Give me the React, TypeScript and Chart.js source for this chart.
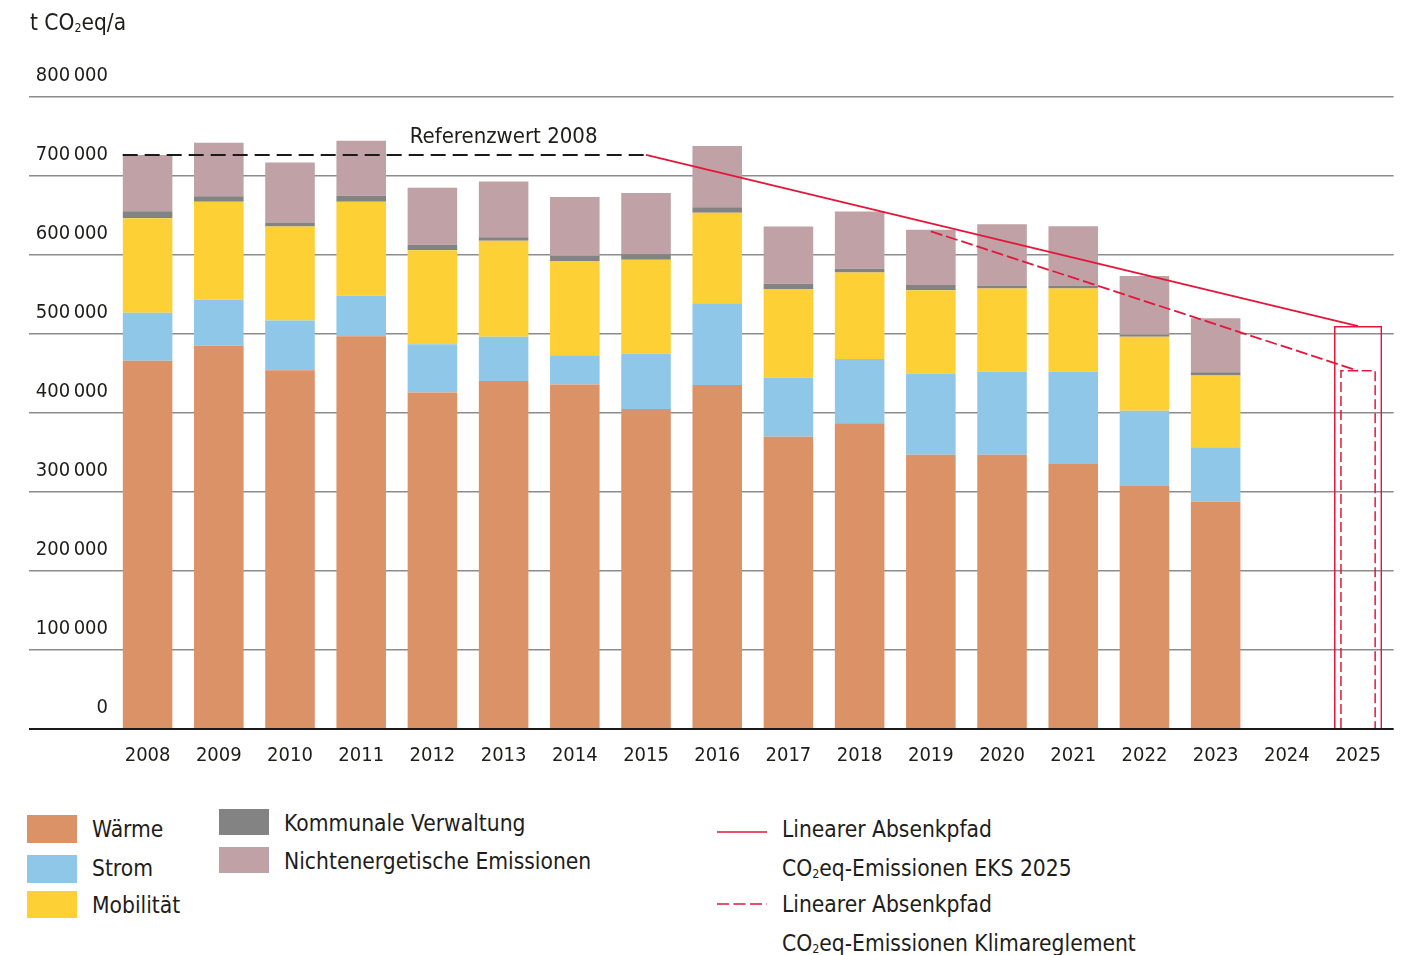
import React, { useEffect, useRef } from 'react';
import { Chart, registerables } from 'chart.js';

Chart.register(...registerables);

// ---------- data ----------
const years = ['2008', '2009', '2010', '2011', '2012', '2013', '2014', '2015', '2016', '2017', '2018', '2019', '2020', '2021', '2022', '2023', '2024', '2025'];

const waerme = [466000, 485000, 454000, 497000, 426000, 440500, 436000, 405000, 435500, 370000, 387000, 347000, 347000, 335500, 307500, 288000, null, null];
const strom = [61000, 58500, 63000, 51500, 61000, 56000, 37000, 70000, 103500, 75000, 81500, 103000, 105500, 117000, 95500, 68500, null, null];
const mobilitaet = [119500, 124000, 119000, 119000, 119000, 121500, 119500, 119000, 114500, 112000, 109500, 105500, 105000, 105000, 93500, 91000, null, null];
const kommunal = [9000, 7000, 5000, 7500, 7000, 4500, 6500, 7000, 7000, 6500, 4500, 6500, 4000, 4000, 3000, 4000, null, null];
const nichtenergetisch = [71000, 67500, 76000, 69500, 72000, 70500, 74500, 77500, 77500, 72500, 72500, 70000, 77500, 75000, 74000, 68500, null, null];

const zielEKS = [null, null, null, null, null, null, null, null, null, null, null, null, null, null, null, null, null, 510000];
const zielKlima = [null, null, null, null, null, null, null, null, null, null, null, null, null, null, null, null, null, 453500];

const referenzwert2008 = 726600;
const referenzJahre = [2007.65, 2015];
const referenzLabel = 'Referenzwert 2008';
const referenzLabelJahr = 2013;

const pfadEKSJahre = [2015, 2025];
const pfadEKSWerte = [726600, 510000];
const pfadKlimaJahre = [2019, 2025];
const pfadKlimaWerte = [630000, 453500];

const yMax = 800000;
const yStep = 100000;

// ---------- styles ----------
const FONT = "'DejaVu Sans Condensed', 'DejaVu Sans', sans-serif";
const TEXT = '#1d1d1b';
const RED = '#e4163a';
const C_WAERME = '#db9266';
const C_STROM = '#8fc7e8';
const C_MOB = '#fdd035';
const C_KOMM = '#838383';
const C_NICHT = '#bfa1a6';

const fmt = (v: number) => (v === 0 ? '0' : `${Math.round(v / 1000)}\u2009000`);

const overlayPlugin = {
  id: 'overlays',
  afterDatasetsDraw(chart: any) {
    const ctx = chart.ctx;
    chart.data.datasets.forEach((ds: any, i: number) => {
      if (!ds.dashedOutline) return;
      const meta = chart.getDatasetMeta(i);
      meta.data.forEach((el: any, j: number) => {
        if (ds.data[j] == null) return;
        const p = el.getProps(['x', 'y', 'base', 'width'], true);
        const l = p.x - p.width / 2;
        const r = p.x + p.width / 2;
        ctx.save();
        ctx.strokeStyle = ds.outlineColor;
        ctx.lineWidth = ds.outlineWidth;
        ctx.setLineDash(ds.outlineDash);
        ctx.beginPath();
        ctx.moveTo(l, p.base);
        ctx.lineTo(l, p.y);
        ctx.lineTo(r, p.y);
        ctx.lineTo(r, p.base);
        ctx.stroke();
        ctx.restore();
      });
    });
    const xs = chart.scales.x2;
    const ys = chart.scales.y2;
    ctx.save();
    ctx.font = `22px ${FONT}`;
    ctx.fillStyle = TEXT;
    ctx.textAlign = 'center';
    ctx.textBaseline = 'alphabetic';
    ctx.fillText(referenzLabel, xs.getPixelForValue(referenzLabelJahr), ys.getPixelForValue(referenzwert2008) - 12);
    ctx.restore();
  },
};

function buildConfig(): any {
  const mainBar = { type: 'bar', stack: 'ist', grouped: false, categoryPercentage: 1, barPercentage: 0.696, borderWidth: 0, order: 2 };
  return {
    type: 'bar',
    data: {
      labels: years,
      datasets: [
        { ...mainBar, label: 'Wärme', data: waerme, backgroundColor: C_WAERME },
        { ...mainBar, label: 'Strom', data: strom, backgroundColor: C_STROM },
        { ...mainBar, label: 'Mobilität', data: mobilitaet, backgroundColor: C_MOB },
        { ...mainBar, label: 'Kommunale Verwaltung', data: kommunal, backgroundColor: C_KOMM },
        { ...mainBar, label: 'Nichtenergetische Emissionen', data: nichtenergetisch, backgroundColor: C_NICHT },
        {
          type: 'bar', label: 'Ziel EKS 2025', data: zielEKS, stack: 'zielEKS', grouped: false,
          categoryPercentage: 1, barPercentage: 0.675, backgroundColor: 'rgba(0,0,0,0)',
          borderColor: RED, borderWidth: 1.5, borderSkipped: 'start', order: 1,
        },
        {
          type: 'bar', label: 'Ziel Klimareglement', data: zielKlima, stack: 'zielKlima', grouped: false,
          categoryPercentage: 1, barPercentage: 0.48, backgroundColor: 'rgba(0,0,0,0)', borderWidth: 0,
          dashedOutline: true, outlineColor: RED, outlineWidth: 1.5, outlineDash: [10, 4], order: 1,
        },
        {
          type: 'line', label: referenzLabel, xAxisID: 'x2', yAxisID: 'y2',
          data: referenzJahre.map((x) => ({ x, y: referenzwert2008 })),
          borderColor: '#1a1a1a', borderWidth: 2, borderDash: [15, 7], pointRadius: 0, fill: false, tension: 0, order: 0,
        },
        {
          type: 'line', label: 'Linearer Absenkpfad CO2eq-Emissionen EKS 2025', xAxisID: 'x2', yAxisID: 'y2',
          data: pfadEKSJahre.map((x, i) => ({ x, y: pfadEKSWerte[i] })),
          borderColor: RED, borderWidth: 1.8, pointRadius: 0, fill: false, tension: 0, order: 0,
        },
        {
          type: 'line', label: 'Linearer Absenkpfad CO2eq-Emissionen Klimareglement', xAxisID: 'x2', yAxisID: 'y2',
          data: pfadKlimaJahre.map((x, i) => ({ x, y: pfadKlimaWerte[i] })),
          borderColor: RED, borderWidth: 1.8, borderDash: [12, 4], pointRadius: 0, fill: false, tension: 0, order: 0,
        },
      ],
    },
    options: {
      responsive: false,
      animation: false,
      layout: { padding: { top: 89, right: 2, bottom: 0, left: 0 } },
      plugins: { legend: { display: false }, tooltip: { enabled: false } },
      scales: {
        x: {
          type: 'category',
          offset: true,
          grid: { display: false, drawTicks: false },
          border: { display: false },
          ticks: { color: TEXT, font: { size: 20, family: FONT }, padding: 15, maxRotation: 0, autoSkip: false },
          afterFit: (s: any) => { s.height = 49; },
        },
        x2: { type: 'linear', axis: 'x', position: 'bottom', display: false, offset: false, bounds: 'data', min: 2007.5, max: 2025.5 },
        y: {
          stacked: true,
          min: 0,
          max: yMax,
          border: { display: false },
          grid: {
            color: (c: any) => (c.tick && c.tick.value === 0 ? '#1a1a1a' : '#8c8c8c'),
            lineWidth: (c: any) => (c.tick && c.tick.value === 0 ? 2 : 1.5),
            tickLength: 83,
            drawTicks: true,
          },
          ticks: {
            stepSize: yStep,
            color: TEXT,
            font: { size: 20, family: FONT },
            padding: -79,
            labelOffset: -21,
            callback: (v: any) => fmt(Number(v)),
          },
          afterFit: (s: any) => { s.width = 104; },
        },
        y2: { type: 'linear', axis: 'y', position: 'left', display: false, offset: false, min: 0, max: yMax },
      },
    },
    plugins: [overlayPlugin],
  };
}

// ---------- layout helpers (page coords -> container coords) ----------
const OFF = 8;
const LEG_SIZE = 22.6;

function Txt(props: { x: number; cy: number; size?: number; children: any }) {
  const size = props.size ?? LEG_SIZE;
  return (
    <div
      style={{
        position: 'absolute',
        left: props.x - OFF,
        top: props.cy - OFF - 0.49 * size,
        fontSize: size,
        lineHeight: `${size}px`,
        whiteSpace: 'nowrap',
      }}
    >
      {props.children}
    </div>
  );
}

function Swatch(props: { x: number; y: number; w: number; h: number; color: string }) {
  return (
    <div style={{ position: 'absolute', left: props.x - OFF, top: props.y - OFF, width: props.w, height: props.h, background: props.color }} />
  );
}

const Sub2 = () => (
  <span style={{ fontSize: '0.55em', position: 'relative', top: '0.2em' }}>2</span>
);

export default function App() {
  const canvasRef = useRef<HTMLCanvasElement>(null);

  useEffect(() => {
    document.documentElement.style.overflow = 'hidden';
    const canvas = canvasRef.current;
    if (!canvas) return;
    const chart = new Chart(canvas, buildConfig());
    return () => chart.destroy();
  }, []);

  return (
    <div style={{ position: 'relative', width: 1388, height: 947, fontFamily: FONT, color: TEXT, background: '#fff' }}>
      <canvas ref={canvasRef} width={1388} height={770} style={{ position: 'absolute', left: 0, top: 0, width: 1388, height: 770 }} />

      <Txt x={30} cy={22} size={22.5}>
        t CO<Sub2 />eq/a
      </Txt>

      <Swatch x={27} y={815} w={50} h={28} color={C_WAERME} />
      <Swatch x={27} y={855} w={50} h={28} color={C_STROM} />
      <Swatch x={27} y={891} w={50} h={27} color={C_MOB} />
      <Txt x={92} cy={829}>Wärme</Txt>
      <Txt x={92} cy={868}>Strom</Txt>
      <Txt x={92} cy={905}>Mobilität</Txt>

      <Swatch x={219} y={809} w={50} h={26} color={C_KOMM} />
      <Swatch x={219} y={847} w={50} h={26} color={C_NICHT} />
      <Txt x={284} cy={823}>Kommunale Verwaltung</Txt>
      <Txt x={284} cy={861}>Nichtenergetische Emissionen</Txt>

      <svg style={{ position: 'absolute', left: 717 - OFF, top: 825 - OFF }} width={52} height={90}>
        <line x1={0} y1={7} x2={50} y2={7} stroke={RED} strokeWidth={1.6} />
        <line x1={0} y1={79} x2={50} y2={79} stroke={RED} strokeWidth={1.6} strokeDasharray="12 4.5" />
      </svg>
      <Txt x={782} cy={829}>Linearer Absenkpfad</Txt>
      <Txt x={782} cy={868}>
        CO<Sub2 />eq-Emissionen EKS 2025
      </Txt>
      <Txt x={782} cy={904}>Linearer Absenkpfad</Txt>
      <Txt x={782} cy={943}>
        CO<Sub2 />eq-Emissionen Klimareglement
      </Txt>
    </div>
  );
}
